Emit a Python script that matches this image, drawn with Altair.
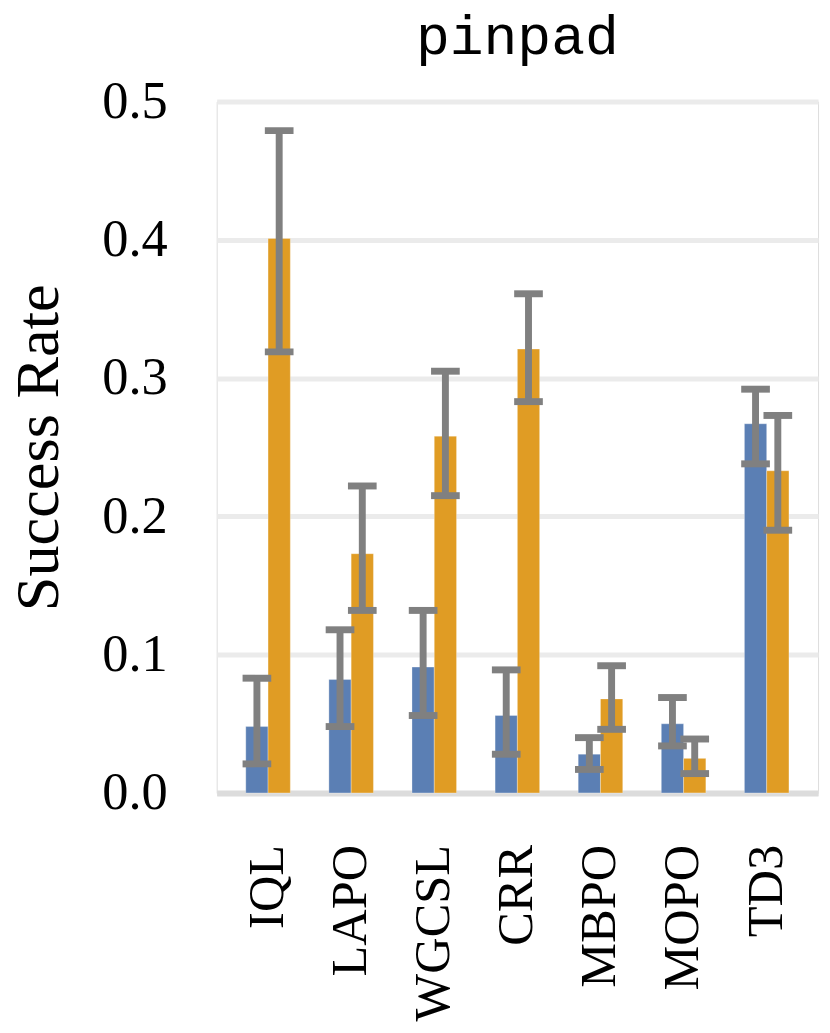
import altair as alt
import pandas as pd

methods = ["IQL", "LAPO", "WGCSL", "CRR", "MBPO", "MOPO", "TD3"]
series = ["series 1", "series 2"]

s1_mean = [0.048, 0.082, 0.091, 0.056, 0.028, 0.050, 0.267]
s1_lo = [0.021, 0.048, 0.056, 0.028, 0.017, 0.034, 0.238]
s1_hi = [0.083, 0.118, 0.132, 0.089, 0.040, 0.069, 0.292]

s2_mean = [0.401, 0.173, 0.258, 0.321, 0.068, 0.025, 0.233]
s2_lo = [0.319, 0.132, 0.215, 0.283, 0.046, 0.014, 0.190]
s2_hi = [0.479, 0.222, 0.305, 0.361, 0.092, 0.039, 0.273]

colors = ["#5b7fb4", "#e09c24"]

rows = []
for name, means, los, his in [(series[0], s1_mean, s1_lo, s1_hi),
                              (series[1], s2_mean, s2_lo, s2_hi)]:
    for m, v, lo, hi in zip(methods, means, los, his):
        rows.append({"method": m, "series": name, "value": v, "lo": lo, "hi": hi})
df = pd.DataFrame(rows)

x_enc = alt.X("method:N", sort=methods, title=None,
              scale=alt.Scale(paddingInner=0.464, paddingOuter=0.35),
              axis=alt.Axis(labelAngle=270, labelFont="Liberation Serif",
                            labelFontSize=51, labelColor="black",
                            labelPadding=52, ticks=False, tickSize=0,
                            domain=True, domainColor="#dcdcdc",
                            domainWidth=6, grid=False))
xoff = alt.XOffset("series:N", sort=series,
                   scale=alt.Scale(paddingInner=0, paddingOuter=0))

base = alt.Chart(df)

bars = base.mark_bar(stroke="#ffffff", strokeWidth=0.6, strokeOpacity=0.5).encode(
    x=x_enc,
    xOffset=xoff,
    y=alt.Y("value:Q", title="Success Rate",
            scale=alt.Scale(domain=[0, 0.5], nice=False, zero=True),
            axis=alt.Axis(values=[0, 0.1, 0.2, 0.3, 0.4, 0.5], format=".1f",
                          labelFont="Liberation Serif", labelFontSize=53,
                          labelColor="black", labelPadding=50,
                          ticks=False, tickSize=0, domain=False,
                          grid=True, gridColor="#ebebeb", gridWidth=5,
                          titleFont="Liberation Serif", titleFontSize=63,
                          titleFontWeight="normal", titleColor="black",
                          titlePadding=32)),
    color=alt.Color("series:N", sort=series,
                    scale=alt.Scale(domain=series, range=colors), legend=None),
)

rules = base.mark_rule(color="#808080", strokeWidth=7).encode(
    x=alt.X("method:N", sort=methods),
    xOffset=xoff,
    y=alt.Y("lo:Q"),
    y2="hi:Q",
)

caps_lo = base.mark_tick(color="#808080", thickness=7, size=29,
                         orient="horizontal", opacity=1).encode(
    x=alt.X("method:N", sort=methods),
    xOffset=xoff,
    y=alt.Y("lo:Q"),
)
caps_hi = base.mark_tick(color="#808080", thickness=7, size=29,
                         orient="horizontal", opacity=1).encode(
    x=alt.X("method:N", sort=methods),
    xOffset=xoff,
    y=alt.Y("hi:Q"),
)

chart = alt.layer(bars, rules, caps_lo, caps_hi).properties(
    width=608,
    height=699,
    title=alt.TitleParams("pinpad", font="Liberation Mono", fontSize=57,
                          fontWeight="normal", color="black", anchor="middle",
                          offset=10),
    autosize=alt.AutoSizeParams(type="none"),
    padding={"left": 211, "top": 89, "right": 4, "bottom": 228},
).configure_view(stroke=None).configure(background="white")

chart.save("out.html", embed_options={"renderer": "svg", "actions": False})
